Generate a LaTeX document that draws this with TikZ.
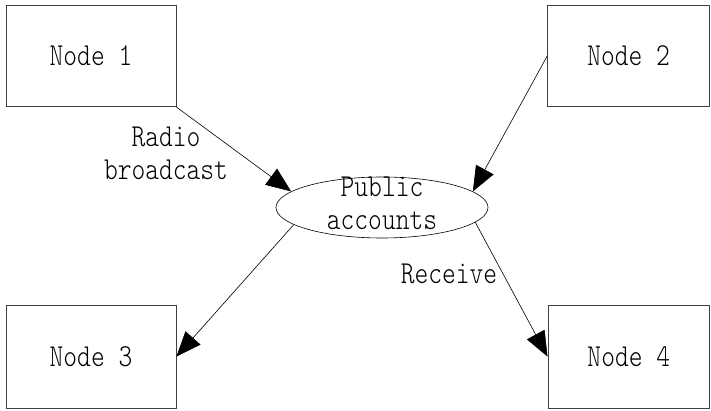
\documentclass[tikz,border=0pt]{standalone}
\usepackage{fontspec}
\newfontfamily\reffont[FakeStretch=0.82]{lmmonolt10-regular.otf}
\usetikzlibrary{shapes.geometric,arrows.meta}
\begin{document}
\begin{tikzpicture}[x=1pt,y=1pt,
  box/.style={draw=black!75, line width=0.8pt, inner sep=0pt, font=\reffont\fontsize{32}{33}\selectfont},
  txt/.style={inner sep=0pt, align=center, font=\reffont\fontsize{32}{33}\selectfont},
  oval/.style={ellipse, draw, line width=0.6pt, inner sep=0pt, minimum width=212pt, minimum height=61pt},
  conn/.style={draw, line width=0.6pt, -{Triangle[length=25pt,width=20pt]}}]
\useasboundingbox (0,0) rectangle (711,410);
\node[box, minimum width=170pt, minimum height=101.7pt] (n1) at (91,354.2) {Node 1};
\node[box, minimum width=162pt, minimum height=101.7pt] (n2) at (628.7,354.2) {Node 2};
\node[box, minimum width=170pt, minimum height=103.3pt] (n3) at (91,53.4) {Node 3};
\node[box, minimum width=161.7pt, minimum height=103.3pt] (n4) at (628.8,53.4) {Node 4};
\node[oval] (pa) at (382,202.5) {};
\node[txt] (pat) at (382,206.2) {Public\\accounts};
\node[txt] (lab1) at (166,256.2) {Radio\\broadcast};
\node[txt, anchor=base] (lab2) at (449,127) {Receive};
\draw[conn] (n1.south east) -- (pa.170.6);
\draw[conn] (n2.west) -- (pa.10);
\draw[conn] (pa.191) -- (n3.east);
\draw[conn] (pa.-9) -- (n4.west);
\end{tikzpicture}
\end{document}
